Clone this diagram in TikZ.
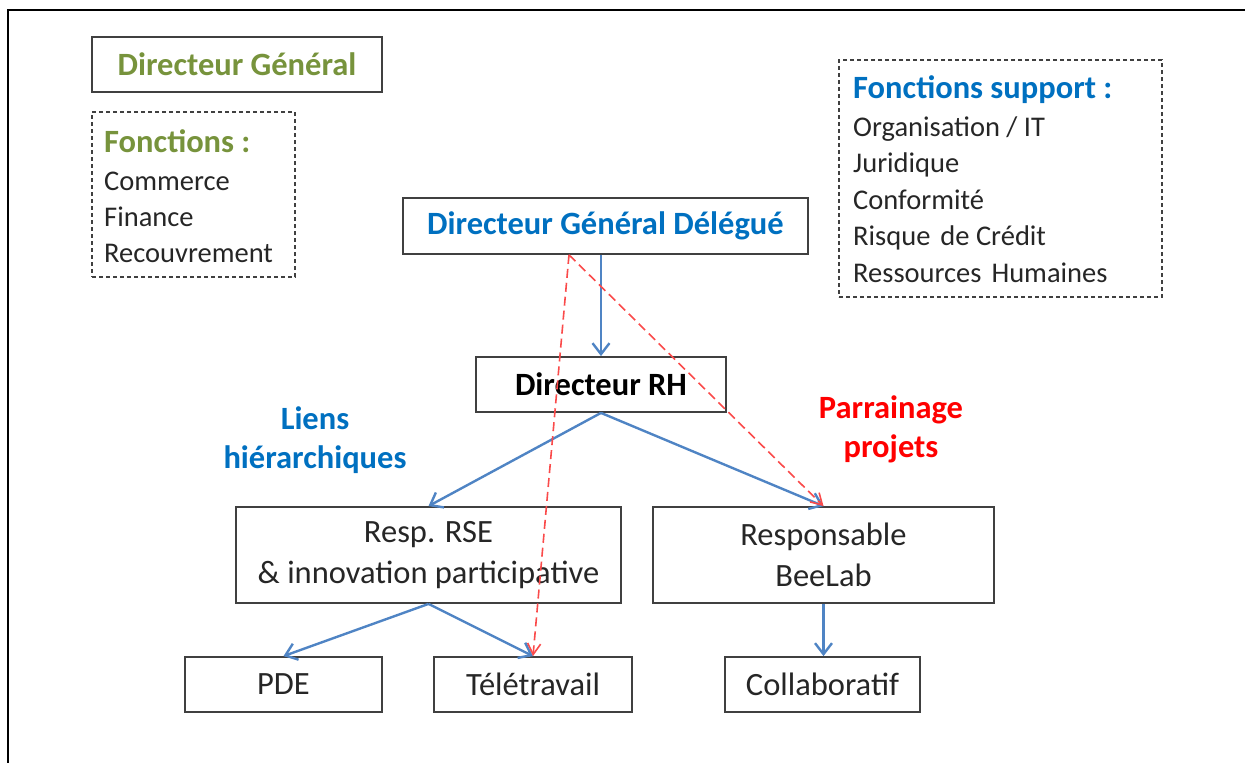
\documentclass[tikz,border=0pt]{standalone}
\usepackage{fontspec}
\setmainfont{Carlito}
\usetikzlibrary{arrows.meta,calc}
\definecolor{boxgray}{HTML}{404040}
\definecolor{linkblue}{HTML}{4F84C4}
\definecolor{dashred}{HTML}{FA4A4A}
\definecolor{txtgreen}{HTML}{77933C}
\definecolor{txtblue}{HTML}{0070C0}
\definecolor{txtred}{HTML}{FF0000}
\tikzset{
  box/.style={draw=boxgray, line width=1.8pt, inner sep=0pt, align=center,
    font=\fontsize{32.5}{41}\selectfont},
  dbox/.style={draw=boxgray, line width=1.6pt, dash pattern=on 4pt off 3pt, inner sep=0pt},
  head/.style={anchor=base west, inner sep=0pt, font=\fontsize{32.5}{39}\selectfont\bfseries},
  item/.style={anchor=base west, inner sep=0pt, font=\fontsize{28.5}{36}\selectfont, text=black!85},
  label/.style={inner sep=0pt, align=center, font=\fontsize{32.5}{39}\selectfont\bfseries},
  hier/.style={draw=linkblue, line width=2.4pt, -{Straight Barb[length=11pt,width=17pt,line width=2.4pt]}},
  spons/.style={draw=dashred, line width=1.6pt, dash pattern=on 9pt off 5pt,
    -{Straight Barb[length=11pt,width=13pt,line width=1.6pt]}},
}
\begin{document}
\begin{tikzpicture}[x=1pt,y=-1pt]
\useasboundingbox (0,0) rectangle (1245,763);
% frame
\draw[line width=2.5pt, black] (8,763) -- (8,10) -- (1245,10);

% Directeur General
\node[box, minimum width=290, minimum height=55, text=txtgreen, font=\fontsize{32.5}{41}\selectfont\bfseries]
  (dg) at (237,64.5) {Directeur Général};

% Fonctions box
\node[dbox, minimum width=203, minimum height=165] (fbox) at (193.5,194.5) {};
\node[head, text=txtgreen] (fh) at (104,152) {Fonctions :};
\node[item] (f1) at (104,190) {Commerce};
\node[item] (f2) at (104,226) {Finance};
\node[item] (f3) at (104,262) {Recouvrement};

% Fonctions support box
\node[dbox, minimum width=323, minimum height=237] (sbox) at (1000.5,178.5) {};
\node[head, text=txtblue] (sh) at (853,98) {Fonctions support :};
\node[item] (s1) at (853,136) {Organisation / IT};
\node[item] (s2) at (853,172.5) {Juridique};
\node[item] (s3) at (853,209) {Conformité};
\node[item] (s4) at (853,245.5) {Risque\hspace{0.35em}de Crédit};
\node[item] (s5) at (853,282) {Ressources\hspace{0.35em}Humaines};

% main boxes
\node[box, minimum width=405, minimum height=56, text=txtblue, font=\fontsize{32.5}{41}\selectfont\bfseries]
  (dgd) at (605.5,226) {Directeur Général Délégué};
\node[box, minimum width=250, minimum height=55, font=\fontsize{32.5}{41}\selectfont\bfseries]
  (drh) at (601,384.5) {Directeur RH};
\node[box, minimum width=385, minimum height=96, text=black!85] (rse) at (428.5,555)
  {Resp. RSE\\\& innovation participative};
\node[box, minimum width=341, minimum height=96, text=black!85] (bee) at (823.5,555)
  {Responsable\\BeeLab};
\node[box, minimum width=197, minimum height=55, text=black!85] (pde) at (283.5,684.5) {PDE};
\node[box, minimum width=198, minimum height=55, text=black!85] (tele) at (533,684.5) {Télétravail};
\node[box, minimum width=195, minimum height=55, text=black!85] (coll) at (822.5,684.5) {Collaboratif};

% labels
\node[label, text=txtblue] (lh) at (315,440) {Liens\\hiérarchiques};
\node[label, text=txtred] (pp) at (891,429) {Parrainage\\projets};

% hierarchical links
\draw[hier] (dgd.south -| drh.north) -- (drh.north);
\draw[hier] (drh.south) -- (rse.north);
\draw[hier] (drh.south) -- (bee.north);
\draw[hier] (rse.south) -- (pde.north);
\draw[hier] (rse.south) -- (tele.north);
\draw[hier] (bee.south) -- (bee.south |- coll.north);

% sponsorship links
\coordinate (r0) at ($(dgd.south)+(-36.5,0)$);
\draw[spons] (r0) -- (tele.north);
\draw[spons] (r0) -- (bee.north);
\end{tikzpicture}
\end{document}
